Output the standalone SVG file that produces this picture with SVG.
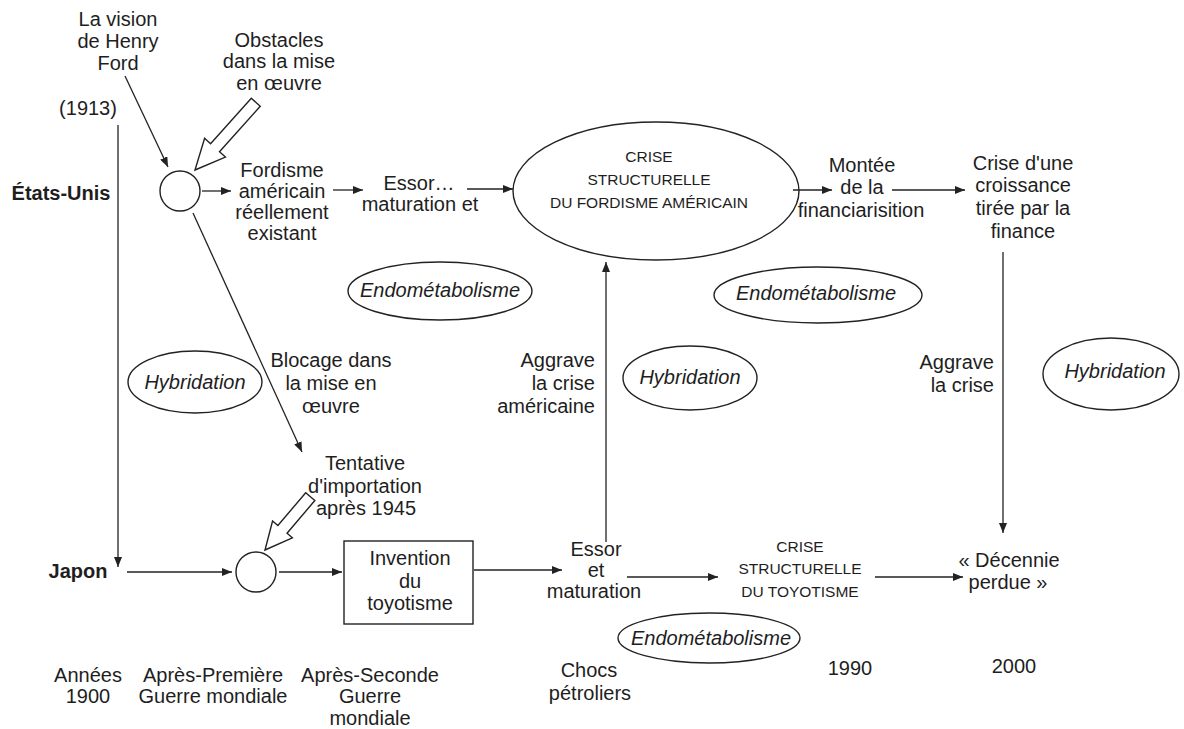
<svg xmlns="http://www.w3.org/2000/svg" width="1184" height="729" viewBox="0 0 1184 729">
  <style>
    text { font-family: "Liberation Sans", Arial, sans-serif; font-size: 20px; fill: #1e1e1e; text-anchor: middle; }
    .caps { font-size: 15.5px; }
    .it { font-style: italic; }
    .bold { font-weight: bold; }
    .end { text-anchor: end; }
    .shape { fill: none; stroke: #222; stroke-width: 1.4; }
    .line { fill: none; stroke: #222; stroke-width: 1.3; }
    .arrow { marker-end: url(#head); }
    .hollow { fill: #fff; stroke: #222; stroke-width: 1.4; stroke-linejoin: miter; }
  </style>
  <defs>
    <marker id="head" markerUnits="userSpaceOnUse" markerWidth="11" markerHeight="8" refX="10" refY="4" orient="auto">
      <path d="M0,0 L10,4 L0,8 Z" fill="#222"/>
    </marker>
  </defs>

  <rect width="1184" height="729" fill="#fff"/>

  <!-- connectors -->
  <g id="connectors">
    <line class="line arrow" x1="125" y1="76" x2="168" y2="167"/>
    <line class="line arrow" x1="118" y1="125" x2="118" y2="567"/>
    <line class="line arrow" x1="202" y1="191" x2="231" y2="191"/>
    <line class="line arrow" x1="333" y1="190" x2="363" y2="190"/>
    <line class="line arrow" x1="467" y1="189" x2="513" y2="189"/>
    <line class="line arrow" x1="793" y1="190" x2="832" y2="190"/>
    <line class="line arrow" x1="892" y1="190" x2="965" y2="190"/>
    <line class="line arrow" x1="193" y1="213" x2="302" y2="452"/>
    <line class="line arrow" x1="1003" y1="252" x2="1003" y2="533"/>
    <line class="line arrow" x1="606" y1="542" x2="606" y2="262"/>
    <line class="line arrow" x1="127" y1="572" x2="232" y2="572"/>
    <line class="line arrow" x1="279" y1="572" x2="342" y2="572"/>
    <line class="line arrow" x1="474" y1="570" x2="562" y2="570"/>
    <line class="line arrow" x1="627" y1="577" x2="718" y2="577"/>
    <line class="line arrow" x1="875" y1="577" x2="963" y2="577"/>
    <!-- hollow block arrows -->
    <path class="hollow" transform="translate(195,170) rotate(131.9)" d="M0,0 L-30,-14 L-30,-6 L-91,-6 L-91,6 L-30,6 L-30,14 Z"/>
    <path class="hollow" transform="translate(265,550) rotate(130.3)" d="M0,0 L-27,-13 L-27,-6 L-70,-6 L-70,6 L-27,6 L-27,13 Z"/>
  </g>

  <!-- labels, top -->
  <g id="vision-ford">
    <text x="118" y="26">La vision</text>
    <text x="118" y="48">de Henry</text>
    <text x="118" y="70">Ford</text>
  </g>
  <g id="obstacles">
    <text x="279" y="47">Obstacles</text>
    <text x="279" y="68">dans la mise</text>
    <text x="279" y="90">en œuvre</text>
  </g>
  <g id="year-1913">
    <text x="88" y="115">(1913)</text>
  </g>
  <g id="etats-unis">
    <text class="bold" x="61" y="200">États-Unis</text>
  </g>
  <g id="us-junction">
    <circle class="shape" cx="180" cy="191" r="20"/>
  </g>
  <g id="fordisme">
    <text x="282" y="177">Fordisme</text>
    <text x="282" y="198">américain</text>
    <text x="282" y="219">réellement</text>
    <text x="282" y="240">existant</text>
  </g>
  <g id="essor-us">
    <text x="419" y="190">Essor…</text>
    <text x="420" y="211">maturation et</text>
  </g>
  <g id="crise-fordisme">
    <ellipse class="shape" cx="656" cy="191" rx="143" ry="69"/>
    <text class="caps" x="649" y="162">CRISE</text>
    <text class="caps" x="649" y="185">STRUCTURELLE</text>
    <text class="caps" x="649" y="208">DU FORDISME AMÉRICAIN</text>
  </g>
  <g id="financiarisation">
    <text x="862" y="172">Montée</text>
    <text x="862" y="194">de la</text>
    <text x="861" y="217">financiarisition</text>
  </g>
  <g id="crise-finance">
    <text x="1023" y="170">Crise d'une</text>
    <text x="1023" y="192">croissance</text>
    <text x="1023" y="215">tirée par la</text>
    <text x="1023" y="238">finance</text>
  </g>

  <!-- middle band -->
  <g id="endo-1">
    <ellipse class="shape" cx="440" cy="291" rx="92" ry="29"/>
    <text class="it" x="440" y="297">Endométabolisme</text>
  </g>
  <g id="endo-2">
    <ellipse class="shape" cx="818" cy="295" rx="104" ry="28"/>
    <text class="it" x="816" y="300">Endométabolisme</text>
  </g>
  <g id="hybrid-1">
    <ellipse class="shape" cx="195" cy="382" rx="67" ry="31"/>
    <text class="it" x="195" y="389">Hybridation</text>
  </g>
  <g id="blocage">
    <text x="331" y="367">Blocage dans</text>
    <text x="331" y="390">la mise en</text>
    <text x="331" y="413">œuvre</text>
  </g>
  <g id="aggrave-us">
    <text class="end" x="595" y="367">Aggrave</text>
    <text class="end" x="595" y="390">la crise</text>
    <text class="end" x="595" y="413">américaine</text>
  </g>
  <g id="hybrid-2">
    <ellipse class="shape" cx="690" cy="378" rx="67" ry="32"/>
    <text class="it" x="690" y="384">Hybridation</text>
  </g>
  <g id="aggrave-jp">
    <text class="end" x="994" y="369">Aggrave</text>
    <text class="end" x="994" y="392">la crise</text>
  </g>
  <g id="hybrid-3">
    <ellipse class="shape" cx="1111" cy="374" rx="68" ry="36"/>
    <text class="it" x="1115" y="378">Hybridation</text>
  </g>

  <!-- Japan row -->
  <g id="tentative">
    <text x="365" y="470">Tentative</text>
    <text x="365" y="493">d'importation</text>
    <text x="366" y="515">après 1945</text>
  </g>
  <g id="japon">
    <text class="bold" x="78" y="578">Japon</text>
  </g>
  <g id="jp-junction">
    <circle class="shape" cx="256" cy="572" r="20"/>
  </g>
  <g id="toyotisme">
    <rect class="shape" x="344" y="541" width="129" height="83"/>
    <text x="410" y="565">Invention</text>
    <text x="410" y="588">du</text>
    <text x="410" y="610">toyotisme</text>
  </g>
  <g id="essor-jp">
    <text x="596" y="556">Essor</text>
    <text x="596" y="577">et</text>
    <text x="594" y="598">maturation</text>
  </g>
  <g id="crise-toyotisme">
    <text class="caps" x="800" y="552">CRISE</text>
    <text class="caps" x="800" y="574">STRUCTURELLE</text>
    <text class="caps" x="800" y="597">DU TOYOTISME</text>
  </g>
  <g id="decennie">
    <text x="1009" y="567">« Décennie</text>
    <text x="1008" y="589">perdue »</text>
  </g>
  <g id="endo-3">
    <ellipse class="shape" cx="709" cy="638" rx="91" ry="25"/>
    <text class="it" x="711" y="645">Endométabolisme</text>
  </g>

  <!-- time axis labels -->
  <g id="periods">
    <text x="88" y="682">Années</text>
    <text x="88" y="703">1900</text>
    <text x="213" y="682">Après-Première</text>
    <text x="213" y="703">Guerre mondiale</text>
    <text x="370" y="682">Après-Seconde</text>
    <text x="370" y="703">Guerre</text>
    <text x="370" y="725">mondiale</text>
    <text x="589" y="677">Chocs</text>
    <text x="590" y="700">pétroliers</text>
    <text x="850" y="675">1990</text>
    <text x="1014" y="673">2000</text>
  </g>
</svg>
